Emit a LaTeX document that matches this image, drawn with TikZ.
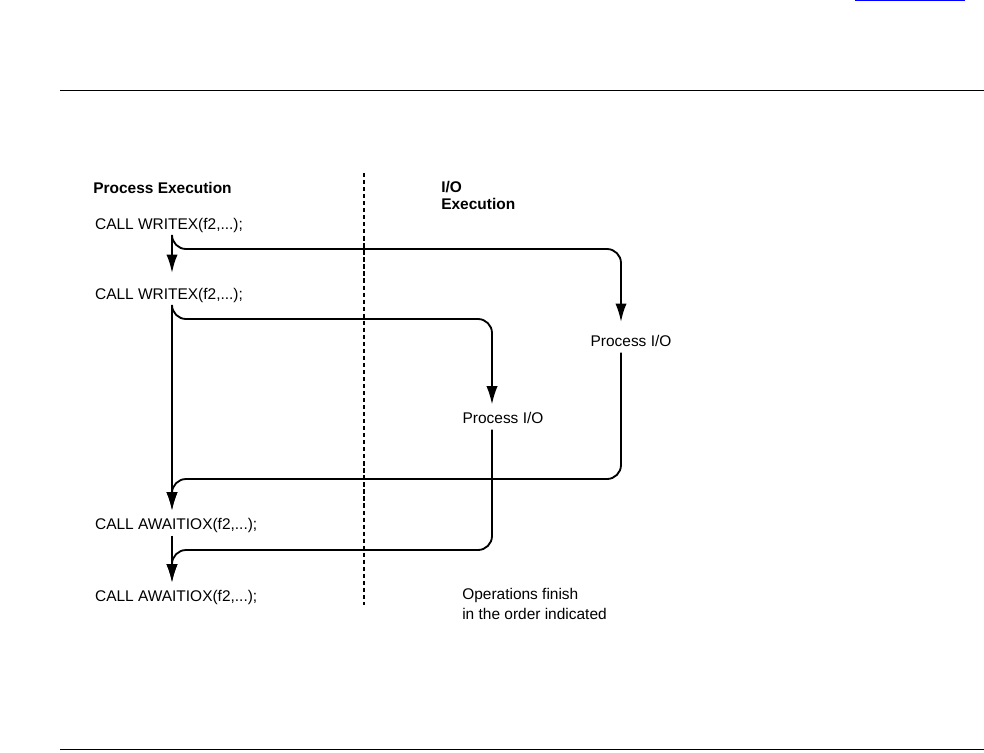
\documentclass[tikz,border=0pt]{standalone}
\usepackage{fontspec}
\setmainfont{Liberation Sans}
\usepackage{tikz}
\usetikzlibrary{positioning}
\usetikzlibrary{arrows.meta}
\usetikzlibrary{calc}

\tikzset{
  label/.style={inner sep=2pt, text height=8pt, text depth=2.5pt},
  header/.style={inner sep=0pt, font=\fontsize{11}{11.7}\selectfont\bfseries},
  flow/.style={line width=1.3pt, rounded corners=10pt,
    -{Latex[length=13pt,width=8pt]}, shorten >=3pt},
  rule/.style={line width=0.8pt}
}

\begin{document}
\begin{tikzpicture}[x=0.025cm, y=-0.025cm, font=\fontsize{11}{14}\selectfont]

      \useasboundingbox (0,0) rectangle (984,752);

      % page rules
      \draw[rule] (60,90.5) -- (984,90.5);
      \draw[rule] (60,749.5) -- (984,749.5);
      \draw[blue, line width=0.8pt] (855,0.6) -- (965,0.6);

      \draw[line width=0.8pt, dash pattern=on 3pt off 2pt] (364,173) -- (364,605);

      \node[header, anchor=base west] (procexec) at (93,193) {Process Execution};
      \node[header, anchor=base west] (io)       at (441,192) {I/O};
      \node[header, anchor=base west] (ioexec)   at (441,209) {Execution};

      \node[label, anchor=base west] (write1) at (92,229) {CALL WRITEX(f2,...);};
      \node[label, anchor=base west] (write2) at (92,299) {CALL WRITEX(f2,...);};
      \node[label, anchor=base west] (await1) at (92,529) {CALL AWAITIOX(f2,...);};
      \node[label, anchor=base west] (await2) at (92,601) {CALL AWAITIOX(f2,...);};

      \node[label, anchor=base] (procio1) at (631,346) {Process I/O};
      \node[label, anchor=base] (procio2) at (503,423) {Process I/O};

      \node[inner sep=0pt, anchor=base west, align=left] (finish) at (462,619)
        {Operations finish\\in the order indicated};

      % lanes
      \coordinate (spine) at (172,0);
      \coordinate (lane1) at (621,249);
      \coordinate (lane2) at (492,319);
      \coordinate (back1) at (621,479);
      \coordinate (back2) at (492,550);

      \draw[flow, shorten >=8.4pt] (spine |- write1.south) -- (spine |- write2.north);
      \draw[flow] (spine |- write2.south) -- (spine |- await1.north);
      \draw[flow] (spine |- await1.south) -- (spine |- await2.north);

      \draw[flow, shorten >=7pt] (spine |- write1.south) |- (lane1) -- (lane1 |- procio1.north);
      \draw[flow] (spine |- write2.south) |- (lane2) -- (lane2 |- procio2.north);

      \draw[flow] (lane1 |- procio1.south) -- (back1) -- (back1 -| spine) -- (spine |- await1.north);
      \draw[flow] (lane2 |- procio2.south) -- (back2) -- (back2 -| spine) -- (spine |- await2.north);

\end{tikzpicture}
\end{document}
